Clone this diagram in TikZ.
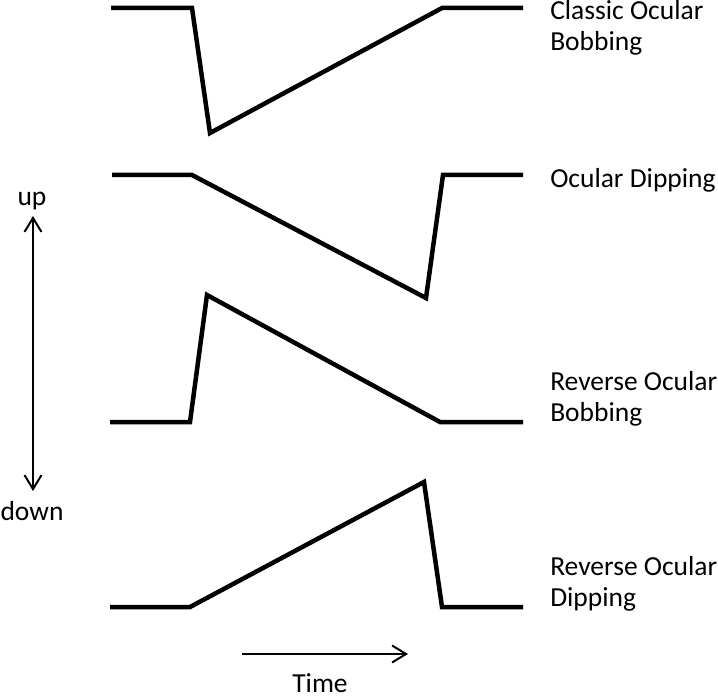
\documentclass[tikz,border=0pt]{standalone}
\usepackage{fontspec}
\setmainfont{Carlito}
\usetikzlibrary{arrows.meta}

\begin{document}
\begin{tikzpicture}[x=1pt,y=-1pt,line width=4.5pt,
  font=\fontsize{27.5}{31}\selectfont,
  trace/.style={line width=4.5pt,line join=miter},
  lbl/.style={anchor=base west,inner sep=0pt,align=left},
  axlbl/.style={anchor=base,inner sep=0pt},
  axis/.style={line width=2pt,-{Straight Barb[length=14pt,width=17pt]}},
  axisboth/.style={line width=2pt,{Straight Barb[length=14pt,width=17pt]}-{Straight Barb[length=14pt,width=17pt]}}]
\useasboundingbox (0,0) rectangle (718,698);
% --- the four eye movement traces (pixel grid, y downwards) ---
\draw[trace] (111,8) -- (192,8) -- (210,133) -- (442,8) -- (523,8);          % classic bobbing
\draw[trace] (112,175) -- (192,175) -- (426,298) -- (443,175) -- (523,175);  % dipping
\draw[trace] (110,422) -- (190,422) -- (207,295) -- (440,422) -- (523,422);  % reverse bobbing
\draw[trace] (110,607) -- (190,607) -- (424,482) -- (442,607) -- (523,607);  % reverse dipping
% --- labels on the right (base = last line) ---
\node[lbl] (classic) at (548,51) {Classic Ocular\\Bobbing};
\node[lbl] (dipping) at (548,188) {Ocular Dipping};
\node[lbl] (revbob) at (548,421) {Reverse Ocular\\Bobbing};
\node[lbl] (revdip) at (548,606) {Reverse Ocular\\Dipping};
% --- up / down axis ---
\node[axlbl] (up) at (32,205) {up};
\node[axlbl] (down) at (32,520) {down};
\coordinate (uptip) at (33,216);
\coordinate (downtip) at (33,491);
\draw[axisboth] (downtip) -- (uptip);
% --- time axis ---
\coordinate (tstart) at (242,654);
\coordinate (tend) at (408,654);
\draw[axis] (tstart) -- (tend);
\node[axlbl] (time) at (320,692) {Time};
\end{tikzpicture}
\end{document}
